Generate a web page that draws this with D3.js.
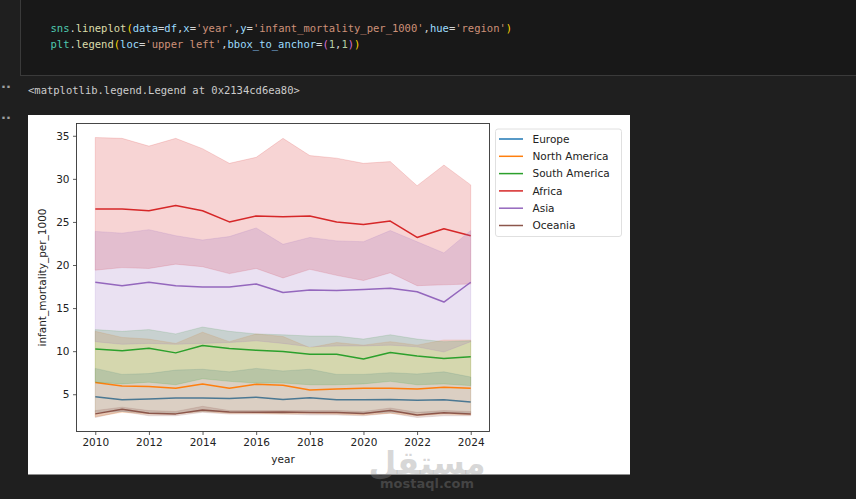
<!DOCTYPE html>
<html>
<head>
<meta charset="utf-8">
<script src="https://cdn.jsdelivr.net/npm/d3@7"></script>
<style>
  html, body { margin: 0; padding: 0; background: #1f1f1f; overflow: hidden; }
  svg { display: block; }
</style>
</head>
<body>
<div id="page"></div>
<script>
const years = d3.range(2010, 2025);
const regions = ["Europe", "North America", "South America", "Africa", "Asia", "Oceania"];

// mean line + 95% band (lower / upper) per region
const europeMean = [4.7, 4.35, 4.45, 4.55, 4.55, 4.5, 4.65, 4.4, 4.6, 4.35, 4.35, 4.4, 4.3, 4.35, 4.1];
const europeLow  = [2.9, 3.0, 2.8, 2.8, 3.0, 2.9, 2.9, 2.8, 2.9, 2.9, 2.8, 2.9, 2.8, 2.9, 2.8];
const europeHigh = [8.0, 7.3, 7.4, 7.8, 7.9, 7.6, 8.0, 7.7, 7.9, 7.3, 7.3, 7.5, 7.35, 7.6, 7.0];

const northAmMean = [6.35, 5.95, 5.9, 5.7, 6.2, 5.7, 6.15, 6.05, 5.5, 5.6, 5.7, 5.7, 5.6, 5.8, 5.7];
const northAmLow  = [2.4, 2.9, 2.7, 2.7, 3.0, 2.8, 2.8, 2.7, 2.8, 2.7, 2.6, 2.8, 2.5, 2.7, 2.6];
const northAmHigh = [12.3, 11.6, 11.4, 10.9, 12.2, 11.1, 12.0, 11.7, 10.4, 11.0, 10.7, 11.1, 10.7, 11.3, 11.3];

const southAmMean = [10.25, 10.05, 10.35, 9.8, 10.65, 10.3, 10.1, 9.95, 9.65, 9.65, 9.1, 9.85, 9.45, 9.15, 9.35];
const southAmLow  = [6.4, 6.2, 6.4, 6.1, 6.8, 6.5, 6.3, 6.3, 6.1, 6.1, 6.2, 6.5, 6.1, 6.2, 6.0];
const southAmHigh = [12.5, 12.3, 12.5, 12.0, 12.8, 12.3, 12.0, 11.9, 11.75, 11.75, 11.4, 11.9, 11.4, 11.1, 11.2];

const africaMean = [26.5, 26.5, 26.3, 26.9, 26.3, 25.0, 25.7, 25.6, 25.7, 25.0, 24.7, 25.1, 23.2, 24.2, 23.4];
const africaLow  = [19.4, 19.7, 19.6, 20.1, 19.8, 19.0, 19.6, 18.5, 19.5, 18.8, 18.2, 19.1, 17.6, 17.7, 17.8];
const africaHigh = [34.8, 34.7, 33.8, 34.7, 33.5, 31.8, 32.5, 34.7, 32.7, 32.4, 31.8, 32.0, 29.2, 31.6, 29.3];

const asiaMean = [18.0, 17.6, 18.0, 17.6, 17.45, 17.45, 17.8, 16.8, 17.1, 17.05, 17.15, 17.3, 16.9, 15.7, 18.0];
const asiaLow  = [11.1, 10.8, 10.9, 10.8, 10.9, 11.0, 11.2, 10.9, 10.5, 10.6, 10.6, 10.7, 10.5, 9.9, 11.1];
const asiaHigh = [23.9, 23.7, 24.1, 23.4, 22.9, 23.3, 24.3, 22.4, 23.2, 22.8, 22.7, 24.0, 22.7, 21.4, 24.0];

const oceaniaMean = [2.72, 3.25, 2.8, 2.72, 3.18, 2.95, 2.92, 2.95, 2.87, 2.87, 2.76, 3.1, 2.6, 2.84, 2.72];
const oceaniaLow  = [2.3, 3.0, 2.5, 2.5, 2.9, 2.7, 2.7, 2.7, 2.6, 2.6, 2.5, 2.8, 2.3, 2.5, 2.5];
const oceaniaHigh = [3.1, 3.5, 3.1, 3.0, 3.6, 3.1, 3.1, 3.1, 3.1, 3.1, 3.0, 3.4, 2.9, 3.1, 3.0];

const xTicks = [2010, 2012, 2014, 2016, 2018, 2020, 2022, 2024];
const yTicks = [5, 10, 15, 20, 25, 30, 35];

const series = [
  [europeMean, europeLow, europeHigh],
  [northAmMean, northAmLow, northAmHigh],
  [southAmMean, southAmLow, southAmHigh],
  [africaMean, africaLow, africaHigh],
  [asiaMean, asiaLow, asiaHigh],
  [oceaniaMean, oceaniaLow, oceaniaHigh]
].map(([m, lo, hi], i) => ({
  region: regions[i],
  values: years.map((yr, j) => ({ year: yr, mean: m[j], lo: lo[j], hi: hi[j] }))
}));

const width = 856;
const height = 499;

const svg = d3.select("#page")
  .append("svg")
  .attr("width", width)
  .attr("height", height);

// notebook chrome
svg.append("rect")
  .attr("x", 20.5).attr("y", -2)
  .attr("width", width).attr("height", 77.5)
  .attr("fill", "#181818")
  .attr("stroke", "#3a3a3a");

const mono = "'DejaVu Sans Mono', 'Liberation Mono', monospace";
const codeLines = [
  [["sns", "#4ec9b0"], [".", "#d4d4d4"], ["lineplot", "#dcdcaa"], ["(", "#ffd700"],
   ["data", "#9cdcfe"], ["=", "#d4d4d4"], ["df", "#9cdcfe"], [",", "#d4d4d4"],
   ["x", "#9cdcfe"], ["=", "#d4d4d4"], ["'year'", "#ce9178"], [",", "#d4d4d4"],
   ["y", "#9cdcfe"], ["=", "#d4d4d4"], ["'infant_mortality_per_1000'", "#ce9178"], [",", "#d4d4d4"],
   ["hue", "#9cdcfe"], ["=", "#d4d4d4"], ["'region'", "#ce9178"], [")", "#ffd700"]],
  [["plt", "#4ec9b0"], [".", "#d4d4d4"], ["legend", "#dcdcaa"], ["(", "#ffd700"],
   ["loc", "#9cdcfe"], ["=", "#d4d4d4"], ["'upper left'", "#ce9178"], [",", "#d4d4d4"],
   ["bbox_to_anchor", "#9cdcfe"], ["=", "#d4d4d4"], ["(", "#da70d6"], ["1", "#b5cea8"],
   [",", "#d4d4d4"], ["1", "#b5cea8"], [")", "#da70d6"], [")", "#ffd700"]]
];
codeLines.forEach((tokens, i) => {
  const t = svg.append("text")
    .attr("x", 50.5).attr("y", 32 + i * 16)
    .attr("font-family", mono)
    .attr("font-size", "10.5px")
    .attr("xml:space", "preserve");
  tokens.forEach(([s, c]) => t.append("tspan").attr("fill", c).text(s));
});

svg.append("text")
  .attr("x", 28).attr("y", 93.5)
  .attr("font-family", mono).attr("font-size", "10.5px")
  .attr("fill", "#cccccc")
  .text("<matplotlib.legend.Legend at 0x2134cd6ea80>");

[91, 122].forEach(y => {
  svg.append("text")
    .attr("x", 1).attr("y", y)
    .attr("font-family", "DejaVu Sans").attr("font-size", "13px")
    .attr("font-weight", "bold")
    .attr("fill", "#a0a0a0").text("··");
});

// figure
svg.append("rect")
  .attr("x", 28).attr("y", 115)
  .attr("width", 602).attr("height", 359.5)
  .attr("fill", "#ffffff");

const plot = { left: 76.5, right: 489.5, top: 123.5, bottom: 431.5 };

const allLo = d3.min(series, s => d3.min(s.values, d => d.lo));
const allHi = d3.max(series, s => d3.max(s.values, d => d.hi));
const yPad = (allHi - allLo) * 0.05;
const xPad = (d3.max(years) - d3.min(years)) * 0.05;

const x = d3.scaleLinear()
  .domain([d3.min(years) - xPad, d3.max(years) + xPad])
  .range([plot.left, plot.right]);

const y = d3.scaleLinear()
  .domain([allLo - yPad, allHi + yPad])
  .range([plot.bottom, plot.top]);

const color = d3.scaleOrdinal()
  .domain(regions)
  .range(["#1f77b4", "#ff7f0e", "#2ca02c", "#d62728", "#9467bd", "#8c564b"]);

const area = d3.area()
  .x(d => x(d.year))
  .y0(d => y(d.lo))
  .y1(d => y(d.hi));

const line = d3.line()
  .x(d => x(d.year))
  .y(d => y(d.mean));

const chart = svg.append("g");

series.forEach(s => {
  chart.append("path")
    .datum(s.values)
    .attr("d", area)
    .attr("fill", color(s.region))
    .attr("fill-opacity", 0.2)
    .attr("stroke", color(s.region))
    .attr("stroke-opacity", 0.2)
    .attr("stroke-width", 0.8);

  chart.append("path")
    .datum(s.values)
    .attr("d", line)
    .attr("fill", "none")
    .attr("stroke", color(s.region))
    .attr("stroke-width", 1.5)
    .attr("stroke-linejoin", "round");
});

// axes
const tickFont = "'DejaVu Sans', sans-serif";

const xAxis = svg.append("g")
  .attr("transform", `translate(0,${plot.bottom})`)
  .call(d3.axisBottom(x).tickValues(xTicks).tickFormat(d3.format("d")).tickSize(3.5).tickPadding(3.5));

const yAxis = svg.append("g")
  .attr("transform", `translate(${plot.left},0)`)
  .call(d3.axisLeft(y).tickValues(yTicks).tickSize(3.5).tickPadding(3.5));

[xAxis, yAxis].forEach(a => {
  a.select(".domain").remove();
  a.selectAll(".tick line").attr("stroke", "#333").attr("stroke-width", 0.8);
  a.selectAll(".tick text")
    .attr("fill", "#222")
    .attr("font-family", tickFont)
    .attr("font-size", "10.5px");
});

svg.append("rect")
  .attr("x", plot.left).attr("y", plot.top)
  .attr("width", plot.right - plot.left)
  .attr("height", plot.bottom - plot.top)
  .attr("fill", "none")
  .attr("stroke", "#333")
  .attr("stroke-width", 0.9);

svg.append("text")
  .attr("x", (plot.left + plot.right) / 2)
  .attr("y", 463)
  .attr("text-anchor", "middle")
  .attr("font-family", tickFont).attr("font-size", "10.5px")
  .attr("fill", "#222")
  .text("year");

svg.append("text")
  .attr("transform", `translate(46,${(plot.top + plot.bottom) / 2}) rotate(-90)`)
  .attr("text-anchor", "middle")
  .attr("font-family", tickFont).attr("font-size", "10.5px")
  .attr("fill", "#222")
  .text("infant_mortality_per_1000");

// legend
const legend = svg.append("g").attr("transform", "translate(495.5,129)");
legend.append("rect")
  .attr("width", 126).attr("height", 107.5)
  .attr("rx", 2.5)
  .attr("fill", "#fff").attr("fill-opacity", 0.8)
  .attr("stroke", "#dcdcdc").attr("stroke-width", 0.9);

const item = legend.selectAll("g.item")
  .data(regions)
  .join("g")
  .attr("class", "item")
  .attr("transform", (d, i) => `translate(0,${10 + i * 17.3})`);

item.append("line")
  .attr("x1", 3.5).attr("x2", 27.5)
  .attr("stroke", d => color(d))
  .attr("stroke-width", 1.5);

item.append("text")
  .attr("x", 37).attr("dy", "0.36em")
  .attr("font-family", tickFont).attr("font-size", "10.5px")
  .attr("fill", "#222")
  .text(d => d);

// site watermark
svg.append("text")
  .attr("x", 427).attr("y", 474)
  .attr("text-anchor", "middle")
  .attr("font-family", "'DejaVu Sans', sans-serif")
  .attr("font-weight", "bold")
  .attr("font-size", "32px")
  .attr("fill", "rgba(140,140,140,0.35)")
  .text("مستقل");
svg.append("text")
  .attr("x", 427).attr("y", 488)
  .attr("text-anchor", "middle")
  .attr("font-family", "'DejaVu Sans', sans-serif")
  .attr("font-weight", "bold")
  .attr("font-size", "13px")
  .attr("fill", "rgba(140,140,140,0.35)")
  .text("mostaql.com");
</script>
</body>
</html>
